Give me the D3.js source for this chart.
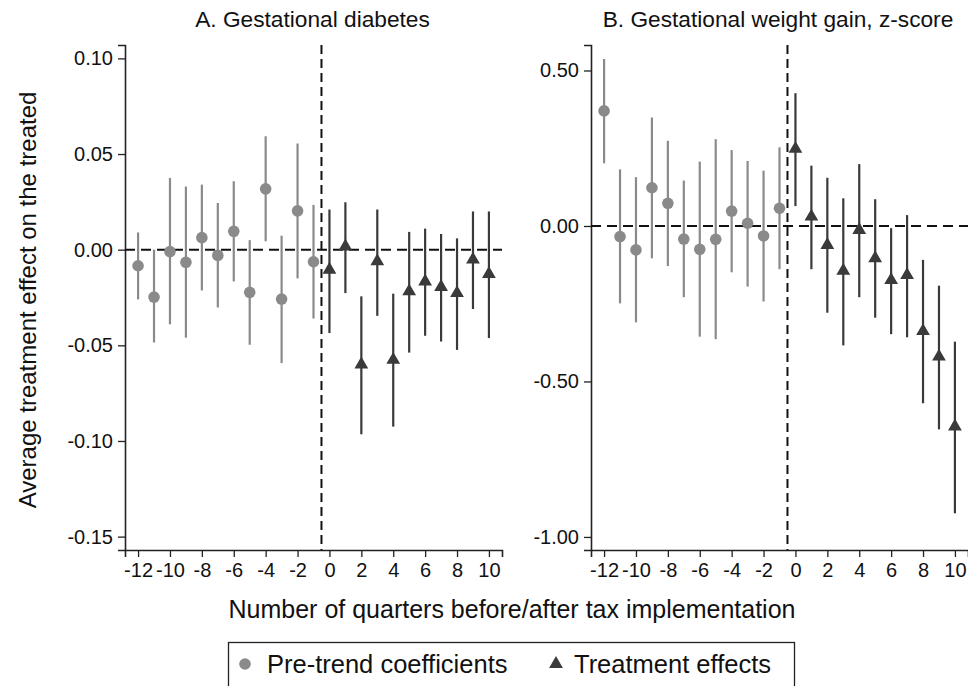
<!DOCTYPE html>
<html>
<head>
<meta charset="utf-8">
<script src="https://cdn.jsdelivr.net/npm/d3@7"></script>
<style>
  body { margin: 0; background: #fff; }
  svg { display: block; font-family: "Liberation Sans", Arial, sans-serif; }
</style>
</head>
<body>
<div id="chart"></div>
<script>
// Quarters relative to tax implementation
const preQuarters = [-12, -11, -10, -9, -8, -7, -6, -5, -4, -3, -2, -1];
const postQuarters = [0, 1, 2, 3, 4, 5, 6, 7, 8, 9, 10];
const xTicks = [-12, -10, -8, -6, -4, -2, 0, 2, 4, 6, 8, 10];

// Panel A: gestational diabetes
const diabetesPre = [-0.0084, -0.0248, -0.001, -0.0066, 0.0063, -0.003, 0.0096, -0.0223, 0.0318, -0.0258, 0.0203, -0.0063];
const diabetesPreLo = [-0.026, -0.0485, -0.039, -0.046, -0.0213, -0.0302, -0.0166, -0.0497, 0.0044, -0.0593, -0.015, -0.036];
const diabetesPreHi = [0.009, 0.0, 0.0375, 0.033, 0.034, 0.0244, 0.0358, 0.005, 0.0593, 0.0073, 0.0555, 0.0234];
const diabetesPost = [-0.0105, 0.0017, -0.060, -0.0061, -0.0576, -0.0218, -0.0166, -0.0195, -0.0227, -0.0052, -0.0127];
const diabetesPostLo = [-0.0436, -0.0227, -0.0965, -0.0346, -0.0925, -0.0538, -0.045, -0.048, -0.0524, -0.031, -0.0462];
const diabetesPostHi = [0.021, 0.0248, -0.0244, 0.021, -0.023, 0.0093, 0.011, 0.0082, 0.0059, 0.020, 0.020];
const diabetesTicks = [0.10, 0.05, 0.00, -0.05, -0.10, -0.15];

// Panel B: gestational weight gain, z-score
const weightPre = [0.370, -0.034, -0.077, 0.123, 0.073, -0.042, -0.075, -0.043, 0.048, 0.0087, -0.032, 0.057];
const weightPreLo = [0.2015, -0.249, -0.31, -0.104, -0.129, -0.229, -0.356, -0.364, -0.149, -0.195, -0.243, -0.139];
const weightPreHi = [0.537, 0.182, 0.157, 0.349, 0.274, 0.146, 0.207, 0.279, 0.244, 0.209, 0.178, 0.253];
const weightPost = [0.248, 0.030, -0.061, -0.144, -0.013, -0.104, -0.174, -0.158, -0.338, -0.420, -0.645];
const weightPostLo = [0.064, -0.139, -0.279, -0.384, -0.229, -0.295, -0.348, -0.358, -0.570, -0.654, -0.924];
const weightPostHi = [0.427, 0.194, 0.155, 0.089, 0.199, 0.086, -0.007, 0.035, -0.109, -0.192, -0.372];
const weightTicks = [0.50, 0.00, -0.50, -1.00];

const preColor = "#8a8a8a";
const postColor = "#3a3a3a";

const W = 968, H = 686;
const svg = d3.select("#chart").append("svg")
    .attr("width", W)
    .attr("height", H);

const tri = d3.symbol().type(d3.symbolTriangle).size(82);

function buildPanel(opts) {
    const x = d3.scaleLinear().domain([-12.82, 10.82]).range([opts.left, opts.left + 377]);
    const y = d3.scaleLinear().domain(opts.yDomain).range([550, 45]);
    const g = svg.append("g");

    // Axes
    g.append("g")
        .attr("transform", `translate(${opts.left},0)`)
        .call(d3.axisLeft(y).tickValues(opts.yTicks).tickSizeOuter(0).tickSize(7).tickPadding(5))
        .call(a => a.select(".domain").attr("stroke", "#222").attr("stroke-width", 1.6))
        .call(a => a.selectAll(".tick line").attr("stroke", "#222").attr("stroke-width", 1.3))
        .call(a => a.selectAll("text").style("font-size", "20px").attr("fill", "#111").text(d => d3.format(".2f")(d).replace("−", "-")));

    g.append("g")
        .attr("transform", "translate(0,550)")
        .call(d3.axisBottom(x).tickValues(xTicks).tickSizeOuter(0).tickSize(7).tickPadding(6))
        .call(a => a.select(".domain").attr("stroke", "#222").attr("stroke-width", 1.6))
        .call(a => a.selectAll(".tick line").attr("stroke", "#222").attr("stroke-width", 1.3))
        .call(a => a.selectAll("text").style("font-size", "20px").attr("fill", "#111").text(d => String(d)));

    // Reference lines
    g.append("line")
        .attr("x1", x.range()[0]).attr("x2", x.range()[1])
        .attr("y1", y(0)).attr("y2", y(0))
        .attr("stroke", "#111").attr("stroke-width", 2)
        .attr("stroke-dasharray", "10,6");
    g.append("line")
        .attr("x1", x(-0.5)).attr("x2", x(-0.5))
        .attr("y1", 45).attr("y2", 550)
        .attr("stroke", "#111").attr("stroke-width", 2)
        .attr("stroke-dasharray", "9,5");

    const pre = preQuarters.map((q, i) => ({ q, v: opts.pre[i], lo: opts.preLo[i], hi: opts.preHi[i] }));
    const post = postQuarters.map((q, i) => ({ q, v: opts.post[i], lo: opts.postLo[i], hi: opts.postHi[i] }));

    // Confidence intervals
    g.append("g").selectAll("line")
        .data(pre)
        .join("line")
        .attr("x1", d => x(d.q)).attr("x2", d => x(d.q))
        .attr("y1", d => y(d.lo)).attr("y2", d => y(d.hi))
        .attr("stroke", preColor).attr("stroke-width", 2.2);
    g.append("g").selectAll("line")
        .data(post)
        .join("line")
        .attr("x1", d => x(d.q)).attr("x2", d => x(d.q))
        .attr("y1", d => y(d.lo)).attr("y2", d => y(d.hi))
        .attr("stroke", postColor).attr("stroke-width", 2.2);

    // Point estimates
    g.append("g").selectAll("circle")
        .data(pre)
        .join("circle")
        .attr("cx", d => x(d.q)).attr("cy", d => y(d.v))
        .attr("r", 5.8)
        .attr("fill", preColor);
    g.append("g").selectAll("path")
        .data(post)
        .join("path")
        .attr("transform", d => `translate(${x(d.q)},${y(d.v)})`)
        .attr("d", tri)
        .attr("fill", postColor);

    // Panel title
    svg.append("text")
        .attr("x", opts.titleX)
        .attr("y", 27)
        .attr("text-anchor", "middle")
        .style("font-size", "22.7px")
        .attr("fill", "#111")
        .text(opts.title);
}

buildPanel({
    left: 125,
    yDomain: [-0.157, 0.107],
    yTicks: diabetesTicks,
    pre: diabetesPre, preLo: diabetesPreLo, preHi: diabetesPreHi,
    post: diabetesPost, postLo: diabetesPostLo, postHi: diabetesPostHi,
    title: "A. Gestational diabetes",
    titleX: 312.5
});

buildPanel({
    left: 591,
    yDomain: [-1.042, 0.582],
    yTicks: weightTicks,
    pre: weightPre, preLo: weightPreLo, preHi: weightPreHi,
    post: weightPost, postLo: weightPostLo, postHi: weightPostHi,
    title: "B. Gestational weight gain, z-score",
    titleX: 778
});

// Shared axis titles
svg.append("text")
    .attr("transform", "translate(36,300) rotate(-90)")
    .attr("text-anchor", "middle")
    .style("font-size", "24px")
    .attr("fill", "#111")
    .text("Average treatment effect on the treated");

svg.append("text")
    .attr("x", 512)
    .attr("y", 618)
    .attr("text-anchor", "middle")
    .style("font-size", "25px")
    .attr("fill", "#111")
    .text("Number of quarters before/after tax implementation");

// Legend
const legend = svg.append("g");
legend.append("rect")
    .attr("x", 228.5).attr("y", 642.5)
    .attr("width", 566).attr("height", 50)
    .attr("fill", "#fff")
    .attr("stroke", "#222").attr("stroke-width", 1.3);
legend.append("circle")
    .attr("cx", 245).attr("cy", 664)
    .attr("r", 5.8)
    .attr("fill", preColor);
legend.append("text")
    .attr("x", 267).attr("y", 673)
    .style("font-size", "25.5px")
    .attr("fill", "#111")
    .text("Pre-trend coefficients");
legend.append("path")
    .attr("transform", "translate(556,664)")
    .attr("d", tri)
    .attr("fill", postColor);
legend.append("text")
    .attr("x", 574).attr("y", 673)
    .style("font-size", "25.5px")
    .attr("fill", "#111")
    .text("Treatment effects");
</script>
</body>
</html>
